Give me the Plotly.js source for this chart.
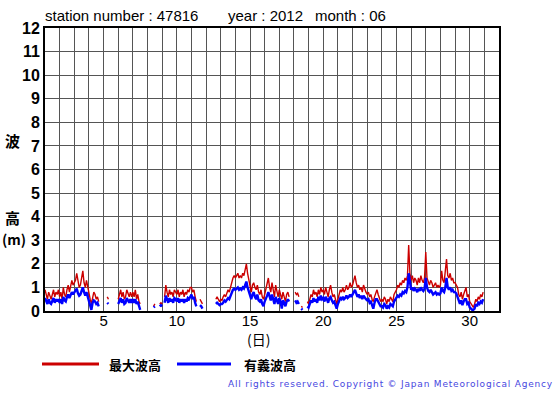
<!DOCTYPE html>
<html><head><meta charset="utf-8">
<script src="https://cdn.plot.ly/plotly-2.35.2.min.js"></script>
<style>html,body{margin:0;padding:0;background:#fff;}#c{width:555px;height:395px;}
g.annotation[data-index="9"] text{letter-spacing:0.8px;}</style>
</head><body><div id="c"></div>
<script>
// Day of month (each day has 12 two-hourly readings)
const days = [1,2,3,4,5,6,7,8,9,10,11,12,13,14,15,16,17,18,19,20,21,22,23,24,25,26,27,28,29,30];
// 最大波高 (max wave height, m), 12 readings per day, null = missing
const maxWave = [
 0.9,0.7,0.5,0.8,0.6,0.5,0.7,0.9,0.6,0.8,0.7,0.9,
 0.6,0.8,0.5,1.0,0.7,0.6,0.9,1.1,0.8,1.0,1.3,1.1,
 1.2,1.3,1.6,1.2,1.0,1.1,1.4,1.7,1.2,1.0,1.3,1.0,
 0.8,0.5,0.3,0.6,0.8,0.7,0.5,0.6,0.4,null,null,0.3,
 null,0.4,null,0.6,0.5,null,0.5,null,null,null,null,null,
 0.5,0.7,0.9,0.6,0.8,0.5,0.6,0.9,0.7,0.6,0.8,0.6,
 0.8,0.6,0.9,0.5,0.7,0.4,0.3,null,null,null,null,null,
 null,null,0.1,null,null,0.2,0.3,null,0.25,null,0.3,0.35,
 0.3,null,0.6,1.1,0.8,0.6,0.9,0.7,0.8,0.6,0.9,0.8,
 0.7,0.9,0.6,0.8,0.7,0.9,0.6,0.8,0.7,0.9,0.8,1.0,
 1.0,0.8,0.9,0.6,0.4,null,null,0.5,0.4,0.3,null,null,
 0.2,null,0.15,null,0.2,null,null,null,0.5,0.6,0.5,0.4,
 0.5,0.45,0.6,0.7,0.6,0.8,0.9,0.8,1.0,1.3,1.4,1.5,
 1.4,1.5,1.6,1.4,1.5,1.4,1.6,1.5,1.7,2.0,1.6,1.3,
 1.0,0.8,1.1,1.2,1.0,0.9,1.1,0.8,0.7,0.9,0.6,0.5,
 0.7,0.9,1.1,1.4,1.0,0.8,1.2,0.9,0.6,1.1,0.8,0.6,
 0.9,0.7,0.5,0.8,0.6,0.4,0.7,0.8,0.6,null,0.6,null,
 null,0.8,0.7,0.75,0.6,null,0.2,0.15,null,0.2,null,0.4,
 0.3,0.5,0.7,0.6,0.9,0.7,0.8,0.6,0.9,0.7,1.0,0.8,
 0.9,0.7,1.0,0.8,0.6,0.9,1.1,0.8,0.6,0.7,0.5,0.3,
 0.5,0.7,0.9,0.8,1.0,0.8,0.9,1.1,0.9,1.0,1.2,1.0,
 1.1,1.3,1.5,1.2,1.0,1.1,0.9,1.0,0.8,1.1,0.9,0.8,
 0.7,0.8,0.6,0.7,0.5,0.4,0.6,0.8,0.9,0.7,0.5,0.4,
 0.5,0.4,0.6,0.5,0.3,0.5,0.4,0.6,0.5,0.4,0.7,0.8,
 0.9,1.1,1.0,1.2,1.1,1.3,1.2,1.4,1.3,1.5,2.8,1.6,
 1.3,1.5,1.2,1.4,1.3,1.1,1.4,1.2,1.5,1.3,1.2,1.4,
 2.5,1.4,1.2,1.1,1.3,1.2,1.0,1.1,1.2,1.0,1.1,1.0,
 1.1,1.7,1.3,1.2,1.6,2.2,1.5,1.4,1.6,1.3,1.4,1.2,
 1.2,1.1,1.0,0.7,0.6,0.8,0.5,0.7,0.9,1.0,0.6,0.7,
 0.4,0.3,0.2,0.15,0.3,0.5,0.4,0.6,0.5,0.7,0.6,0.8
];
// 有義波高 (significant wave height, m)
const sigWave = [
 0.55,0.45,0.3,0.5,0.35,0.3,0.4,0.55,0.35,0.5,0.4,0.5,
 0.35,0.5,0.3,0.6,0.45,0.4,0.6,0.7,0.55,0.7,0.8,0.7,
 0.8,0.85,0.95,0.75,0.65,0.7,0.9,1.0,0.8,0.65,0.8,0.6,
 0.5,0.3,0.05,0.35,0.45,0.4,0.3,0.35,0.2,null,null,0.2,
 null,0.25,null,0.35,0.3,null,0.3,null,null,null,null,null,
 0.3,0.45,0.55,0.35,0.5,0.3,0.35,0.55,0.45,0.35,0.5,0.35,
 0.5,0.35,0.5,0.3,0.4,0.15,0.05,null,null,null,null,null,
 null,null,0.05,null,null,0.15,0.2,null,0.15,null,0.2,0.25,
 0.2,null,0.35,0.65,0.5,0.35,0.55,0.4,0.5,0.35,0.55,0.5,
 0.4,0.55,0.35,0.5,0.4,0.5,0.35,0.5,0.4,0.55,0.5,0.6,
 0.7,0.5,0.6,0.35,0.2,null,null,0.25,0.2,0.1,null,null,
 0.1,null,0.05,null,0.1,null,null,null,0.3,0.35,0.3,0.25,
 0.3,0.3,0.35,0.45,0.4,0.5,0.55,0.5,0.65,0.8,0.9,0.95,
 0.9,0.95,1.0,0.9,0.95,0.9,1.0,0.95,1.1,1.25,1.0,0.8,
 0.6,0.5,0.7,0.8,0.6,0.5,0.7,0.45,0.4,0.5,0.3,0.2,
 0.4,0.5,0.65,0.8,0.6,0.45,0.7,0.5,0.3,0.6,0.45,0.3,
 0.55,0.4,0.1,0.45,0.35,0.2,0.4,0.5,0.4,null,0.4,null,
 null,0.45,0.35,0.4,0.3,null,0.1,0.05,null,0.1,null,0.2,
 0.15,0.3,0.45,0.35,0.55,0.4,0.5,0.35,0.6,0.45,0.65,0.5,
 0.55,0.4,0.6,0.5,0.35,0.55,0.6,0.45,0.35,0.4,0.25,0.1,
 0.3,0.4,0.55,0.5,0.6,0.5,0.55,0.65,0.55,0.6,0.7,0.6,
 0.7,0.85,0.9,0.75,0.6,0.7,0.55,0.65,0.5,0.65,0.55,0.5,
 0.45,0.5,0.35,0.4,0.25,0.1,0.35,0.5,0.5,0.4,0.3,0.2,
 0.2,0.15,0.3,0.25,0.1,0.2,0.15,0.3,0.25,0.2,0.4,0.5,
 0.55,0.65,0.6,0.7,0.65,0.8,0.75,0.85,0.8,1.0,1.6,1.1,
 0.9,1.0,0.85,0.95,0.9,0.8,0.95,0.85,1.0,0.9,0.85,0.95,
 1.4,1.0,0.85,0.8,0.9,0.8,0.7,0.75,0.8,0.7,0.75,0.7,
 0.75,1.0,0.85,0.8,1.0,1.4,1.0,0.9,1.0,0.85,0.9,0.8,
 0.8,0.75,0.6,0.4,0.3,0.45,0.25,0.4,0.5,0.5,0.3,0.35,
 0.15,0.1,0.05,0.05,0.1,0.3,0.2,0.35,0.3,0.4,0.35,0.5
];
const xTickLabels = ['5','10','15','20','25','30'];
const yTickLabels = ['0','1','2','3','4','5','6','7','8','9','10','11','12'];

const perDay = 12;
const time = [];
days.forEach(d => { for (let k = 0; k < perDay; k++) time.push(d + k / perDay); });

const gridVals = []; const gridText = [];
for (let v = 1; v <= 32; v++) { gridVals.push(v); gridText.push(xTickLabels.includes(String(v)) ? String(v) : ''); }

const traces = [
  {x: time, y: maxWave, type: 'scatter', mode: 'lines', line: {color: '#cc0000', width: 1.4}, connectgaps: false, hoverinfo: 'skip'},
  {x: time, y: sigWave, type: 'scatter', mode: 'lines', line: {color: '#0000ff', width: 2.4}, connectgaps: false, hoverinfo: 'skip'}
];

// pixel -> paper helpers (plot area 45..499 x 28..311)
const L = 45, R = 499, T = 28, B = 311;
const px = p => (p - L) / (R - L);
const py = p => (B - p) / (B - T);
const cjk = '"Noto Sans CJK JP", sans-serif';
const sans = 'Liberation Sans, Arial, sans-serif';
const ann = (text, x, y, opts) => Object.assign({text, xref: 'paper', yref: 'paper', x: px(x), y: py(y), showarrow: false, xanchor: 'left', align: 'left', yanchor: 'middle', font: {family: sans, size: 15, color: '#000'}}, opts || {});

const layout = {
  width: 555, height: 395,
  margin: {l: L, r: 555 - R, t: T, b: 395 - B, pad: 0},
  paper_bgcolor: '#fff', plot_bgcolor: '#fff',
  showlegend: false,
  xaxis: {range: [1, 32], tickmode: 'array', tickvals: gridVals, ticktext: gridText,
          showgrid: true, gridcolor: '#555', gridwidth: 1, zeroline: false,
          showline: true, linecolor: '#000', linewidth: 2, mirror: true, ticks: '',
          ticklabelstandoff: -5,
          tickfont: {family: sans, size: 15, color: '#000'}},
  yaxis: {range: [0, 12], tickmode: 'array', tickvals: yTickLabels.map(Number), ticktext: yTickLabels.map(t => '<b>' + t + '</b>'),
          showgrid: true, gridcolor: '#555', gridwidth: 1, zeroline: false,
          showline: true, linecolor: '#000', linewidth: 2, mirror: true, ticks: '',
          tickfont: {family: '"Liberation Sans Narrow", "Arial Narrow", Arial, sans-serif', size: 16, color: '#000'}},
  shapes: [
    {type: 'line', xref: 'paper', yref: 'paper', x0: px(42), x1: px(99), y0: py(364), y1: py(364), line: {color: '#cc0000', width: 3}},
    {type: 'line', xref: 'paper', yref: 'paper', x0: px(177), x1: px(231), y0: py(364), y1: py(364), line: {color: '#0000ff', width: 3}}
  ],
  annotations: [
    ann('station number : 47816', 43, 16),
    ann('year : 2012', 226, 16),
    ann('month : 06', 313, 16),
    ann('<b>波</b>', 3, 140, {font: {family: cjk, size: 15, color: '#000'}}),
    ann('<b>高</b>', 3, 217, {font: {family: cjk, size: 15, color: '#000'}}),
    ann('<b>(m)</b>', 0, 239, {font: {family: cjk, size: 14, color: '#000'}}),
    ann('(日)', 258, 339, {xanchor: 'center', align: 'center', font: {family: cjk, size: 14, color: '#000'}}),
    ann('<b>最大波高</b>', 107, 364, {font: {family: cjk, size: 13, color: '#000'}}),
    ann('<b>有義波高</b>', 242, 364, {font: {family: cjk, size: 13, color: '#000'}}),
    ann('All rights reserved. Copyright © Japan Meteorological Agency', 226, 384, {font: {family: 'DejaVu Sans, sans-serif', size: 9, color: '#4646e0'}})
  ]
};
Plotly.newPlot('c', traces, layout, {displayModeBar: false, staticPlot: true});
</script></body></html>
